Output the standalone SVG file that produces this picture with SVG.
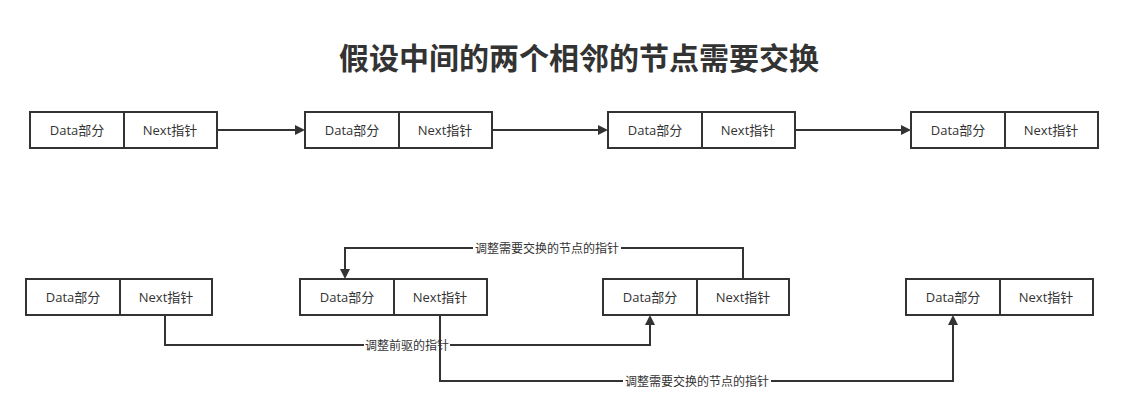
<svg xmlns="http://www.w3.org/2000/svg" width="1123" height="407" viewBox="0 0 1123 407">
<style>
.b{fill:#fff;stroke:#333;stroke-width:2}
.t{font-family:"Open Sans","Noto Sans CJK SC",sans-serif;font-size:13px;fill:#333;text-anchor:middle;dominant-baseline:central}
.c{fill:none;stroke:#333;stroke-width:2}
.l{font-family:"Open Sans","Noto Sans CJK SC",sans-serif;font-size:12px;fill:#333;text-anchor:middle;dominant-baseline:central}
.lb{fill:#fff}
</style>
<defs><marker id="a" markerWidth="10" markerHeight="10" refX="8" refY="5" orient="auto" markerUnits="userSpaceOnUse"><path d="M0,0L10,5L0,10z" fill="#333"/></marker></defs>
<rect width="1123" height="407" fill="#fff"/>
<text x="579" y="56" style="font-family:'Noto Sans CJK SC',sans-serif;font-size:30px;font-weight:bold;fill:#333;text-anchor:middle;dominant-baseline:central">假设中间的两个相邻的节点需要交换</text>
<g id="connectors">
<path class="c" d="M217,130H303" marker-end="url(#a)"/>
<path class="c" d="M492,130H606" marker-end="url(#a)"/>
<path class="c" d="M795,130H909" marker-end="url(#a)"/>
<path class="c" d="M165,315V345H650V317" marker-end="url(#a)"/>
<path class="c" d="M743,279V248H345V277" marker-end="url(#a)"/>
<rect class="lb" x="364" y="338" width="86" height="14"/><text class="l" x="407" y="345">调整前驱的指针</text>
<path class="c" d="M440,315V381H953V317" marker-end="url(#a)"/>
<rect class="lb" x="623" y="374" width="148" height="14"/><text class="l" x="697" y="381">调整需要交换的节点的指针</text>
<rect class="lb" x="473" y="241" width="148" height="14"/><text class="l" x="547" y="248">调整需要交换的节点的指针</text>
</g>
<g id="n1"><rect class="b" x="30" y="112" width="94" height="36"/><rect class="b" x="124" y="112" width="93" height="36"/><text class="t" x="77" y="130">Data部分</text><text class="t" x="170" y="130">Next指针</text></g>
<g id="n2"><rect class="b" x="305" y="112" width="94" height="36"/><rect class="b" x="399" y="112" width="93" height="36"/><text class="t" x="352" y="130">Data部分</text><text class="t" x="445" y="130">Next指针</text></g>
<g id="n3"><rect class="b" x="608" y="112" width="94" height="36"/><rect class="b" x="702" y="112" width="93" height="36"/><text class="t" x="655" y="130">Data部分</text><text class="t" x="748" y="130">Next指针</text></g>
<g id="n4"><rect class="b" x="911" y="112" width="94" height="36"/><rect class="b" x="1005" y="112" width="93" height="36"/><text class="t" x="958" y="130">Data部分</text><text class="t" x="1051" y="130">Next指针</text></g>
<g id="m1"><rect class="b" x="26" y="279" width="94" height="36"/><rect class="b" x="120" y="279" width="92" height="36"/><text class="t" x="73" y="297">Data部分</text><text class="t" x="166" y="297">Next指针</text></g>
<g id="m2"><rect class="b" x="300" y="279" width="94" height="36"/><rect class="b" x="394" y="279" width="93" height="36"/><text class="t" x="347" y="297">Data部分</text><text class="t" x="440" y="297">Next指针</text></g>
<g id="m3"><rect class="b" x="603" y="279" width="94" height="36"/><rect class="b" x="697" y="279" width="92" height="36"/><text class="t" x="650" y="297">Data部分</text><text class="t" x="743" y="297">Next指针</text></g>
<g id="m4"><rect class="b" x="906" y="279" width="94" height="36"/><rect class="b" x="1000" y="279" width="93" height="36"/><text class="t" x="953" y="297">Data部分</text><text class="t" x="1046" y="297">Next指针</text></g>
</svg>
